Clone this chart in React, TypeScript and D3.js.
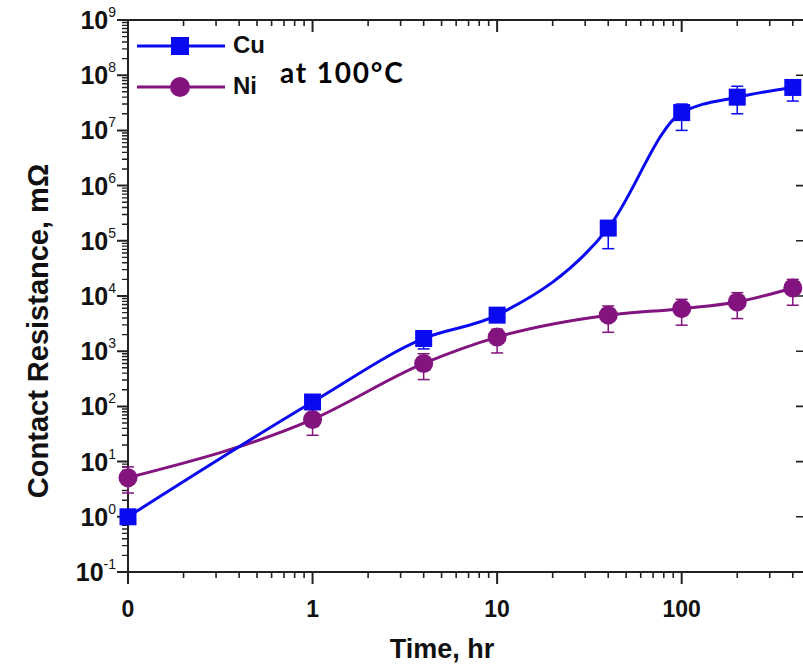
import { useEffect, useRef } from "react";
import * as d3 from "d3";

// time in hours (0 is drawn at the 0.1 position of the log axis)
const hours = [0, 1, 4, 10, 40, 100, 200, 400];

// contact resistance, mOhm
const cuValues = [1, 120, 1700, 4500, 1.7e5, 2.1e7, 4.0e7, 6.0e7];
const cuLow = [1, 90, 1100, 3500, 7.2e4, 1.0e7, 2.0e7, 3.4e7];
const cuHigh = [1, 160, 2200, 5500, 2.3e5, 3.0e7, 6.3e7, 8.0e7];

const niValues = [5.1, 58, 600, 1800, 4500, 5900, 7800, 14000];
const niLow = [2.7, 30, 306, 930, 2200, 2960, 3900, 6800];
const niHigh = [8, 100, 900, 2500, 6600, 8700, 11500, 20000];

const xTickValues = [0.1, 1, 10, 100];
const xTickLabels = ["0", "1", "10", "100"];
const yExponents = [-1, 0, 1, 2, 3, 4, 5, 6, 7, 8, 9];

const CU = "#0a0af0";
const NI = "#83137f";
const AXIS = "#222";
const FONT = "'Liberation Sans', Arial, sans-serif";

function ContactChart() {
  const ref = useRef<SVGSVGElement>(null);

  useEffect(() => {
    const svg = d3.select(ref.current);
    svg.selectAll("*").remove();

    const left = 128;
    const right = 804;
    const top = 20;
    const bottom = 572;

    const x = d3.scaleLog().domain([0.1, 460]).range([left, right]);
    const y = d3.scaleLog().domain([0.1, 1e9]).range([bottom, top]);
    const xPos = (h: number) => x(h === 0 ? 0.1 : h);

    // log minor ticks: 2..9 within each decade
    const xMinor = d3.merge(
      xTickValues.map((d) => d3.range(2, 10).map((k) => d * k))
    ).filter((v) => v <= 460);
    const yMajor = yExponents.map((e) => Math.pow(10, e));
    const yMinor = d3.merge(
      yExponents.slice(0, -1).map((e) => d3.range(2, 10).map((k) => k * Math.pow(10, e)))
    );

    const axes = svg.append("g");

    // frame
    axes.append("rect")
      .attr("x", left)
      .attr("y", top)
      .attr("width", right - left)
      .attr("height", bottom - top)
      .attr("fill", "none")
      .attr("stroke", AXIS)
      .attr("stroke-width", 2);

    const vPath = (vals: number[], y0: number, len: number) =>
      vals.map((d) => `M${x(d)},${y0}V${y0 + len}`).join("");
    const hPath = (vals: number[], x0: number, len: number) =>
      vals.map((d) => `M${x0},${y(d)}H${x0 + len}`).join("");

    const tickPaths = [
      { d: vPath(xMinor, bottom, 6), w: 1.6 },
      { d: vPath(xTickValues, bottom, 12), w: 2 },
      { d: vPath(xMinor, top, 6), w: 1.6 },
      { d: vPath(xTickValues, top, 12), w: 2 },
      { d: hPath(yMinor, left, -6), w: 1.4 },
      { d: hPath(yMajor, left, -11), w: 2 },
      { d: hPath(yMajor, right, -8), w: 1.6 },
    ];
    tickPaths.forEach((t) => {
      axes.append("path")
        .attr("d", t.d)
        .attr("fill", "none")
        .attr("stroke", AXIS)
        .attr("stroke-width", t.w);
    });

    // x tick labels
    svg.append("g")
      .selectAll("text")
      .data(xTickValues)
      .enter()
      .append("text")
      .attr("x", (d) => x(d))
      .attr("y", 617)
      .attr("text-anchor", "middle")
      .attr("font-family", FONT)
      .attr("font-weight", "bold")
      .attr("font-size", 23)
      .attr("fill", "#111")
      .text((d, i) => xTickLabels[i]);

    // y tick labels 10^n
    const yl = svg.append("g")
      .selectAll("text")
      .data(yExponents)
      .enter()
      .append("text")
      .attr("x", 116)
      .attr("y", (e) => y(Math.pow(10, e)) + 9)
      .attr("text-anchor", "end")
      .attr("font-family", FONT)
      .attr("font-weight", "bold")
      .attr("fill", "#111");
    yl.append("tspan").attr("font-size", 25).text("10");
    yl.append("tspan")
      .attr("font-size", 14)
      .attr("dy", -12)
      .attr("font-weight", "normal")
      .text((e) => String(e));

    // axis titles
    svg.append("text")
      .attr("x", 442)
      .attr("y", 658)
      .attr("text-anchor", "middle")
      .attr("font-family", FONT)
      .attr("font-weight", "bold")
      .attr("font-size", 27)
      .attr("fill", "#111")
      .text("Time, hr");
    svg.append("text")
      .attr("transform", "translate(48,331) rotate(-90)")
      .attr("text-anchor", "middle")
      .attr("font-family", FONT)
      .attr("font-weight", "bold")
      .attr("font-size", 29)
      .attr("fill", "#111")
      .text("Contact Resistance, mΩ");

    const series = [
      { name: "Ni", color: NI, values: niValues, low: niLow, high: niHigh, shape: "circle" },
      { name: "Cu", color: CU, values: cuValues, low: cuLow, high: cuHigh, shape: "square" },
    ];

    const line = d3
      .line<number>()
      .x((d, i) => xPos(hours[i]))
      .y((d) => y(d))
      .curve(d3.curveMonotoneX);

    series.forEach((s) => {
      const g = svg.append("g");
      g.append("path")
        .datum(s.values)
        .attr("fill", "none")
        .attr("stroke", s.color)
        .attr("stroke-width", 3)
        .attr("d", line);

      const eb = g.append("g").attr("stroke", s.color).attr("stroke-width", 1.5);
      s.values.forEach((v, i) => {
        if (s.low[i] === v && s.high[i] === v) return;
        const cx = xPos(hours[i]);
        eb.append("line")
          .attr("x1", cx).attr("x2", cx)
          .attr("y1", y(s.low[i])).attr("y2", y(s.high[i]));
        [s.low[i], s.high[i]].forEach((b) => {
          eb.append("line")
            .attr("x1", cx - 6).attr("x2", cx + 6)
            .attr("y1", y(b)).attr("y2", y(b));
        });
      });

      if (s.shape === "square") {
        g.append("g")
          .selectAll("rect")
          .data(s.values)
          .enter()
          .append("rect")
          .attr("x", (d, i) => xPos(hours[i]) - 8.5)
          .attr("y", (d) => y(d) - 8.5)
          .attr("width", 17)
          .attr("height", 17)
          .attr("fill", s.color);
      } else {
        g.append("g")
          .selectAll("circle")
          .data(s.values)
          .enter()
          .append("circle")
          .attr("cx", (d, i) => xPos(hours[i]))
          .attr("cy", (d) => y(d))
          .attr("r", 9.5)
          .attr("fill", s.color);
      }
    });

    // legend
    const legend = svg.append("g");
    const rows = [
      { name: "Cu", color: CU, shape: "square", cy: 46 },
      { name: "Ni", color: NI, shape: "circle", cy: 87 },
    ];
    rows.forEach((r) => {
      legend.append("line")
        .attr("x1", 137).attr("x2", 225)
        .attr("y1", r.cy).attr("y2", r.cy)
        .attr("stroke", r.color)
        .attr("stroke-width", 3);
      if (r.shape === "square") {
        legend.append("rect")
          .attr("x", 180 - 9).attr("y", r.cy - 9)
          .attr("width", 18).attr("height", 18)
          .attr("fill", r.color);
      } else {
        legend.append("circle")
          .attr("cx", 180).attr("cy", r.cy)
          .attr("r", 10)
          .attr("fill", r.color);
      }
      legend.append("text")
        .attr("x", 233)
        .attr("y", r.cy + 7)
        .attr("font-family", FONT)
        .attr("font-weight", "bold")
        .attr("font-size", 24)
        .attr("fill", "#111")
        .text(r.name);
    });

    svg.append("text")
      .attr("x", 280)
      .attr("y", 83)
      .attr("font-family", "Lato, 'Open Sans', sans-serif")
      .attr("font-weight", "bold")
      .attr("font-size", 28)
      .attr("letter-spacing", 1.8)
      .attr("fill", "#000")
      .text("at 100°C");
  }, []);

  return (
    <svg
      ref={ref}
      width={803}
      height={664}
      style={{ position: "absolute", left: 0, top: 0, background: "#fff" }}
    />
  );
}

export default function App() {
  return <ContactChart />;
}
